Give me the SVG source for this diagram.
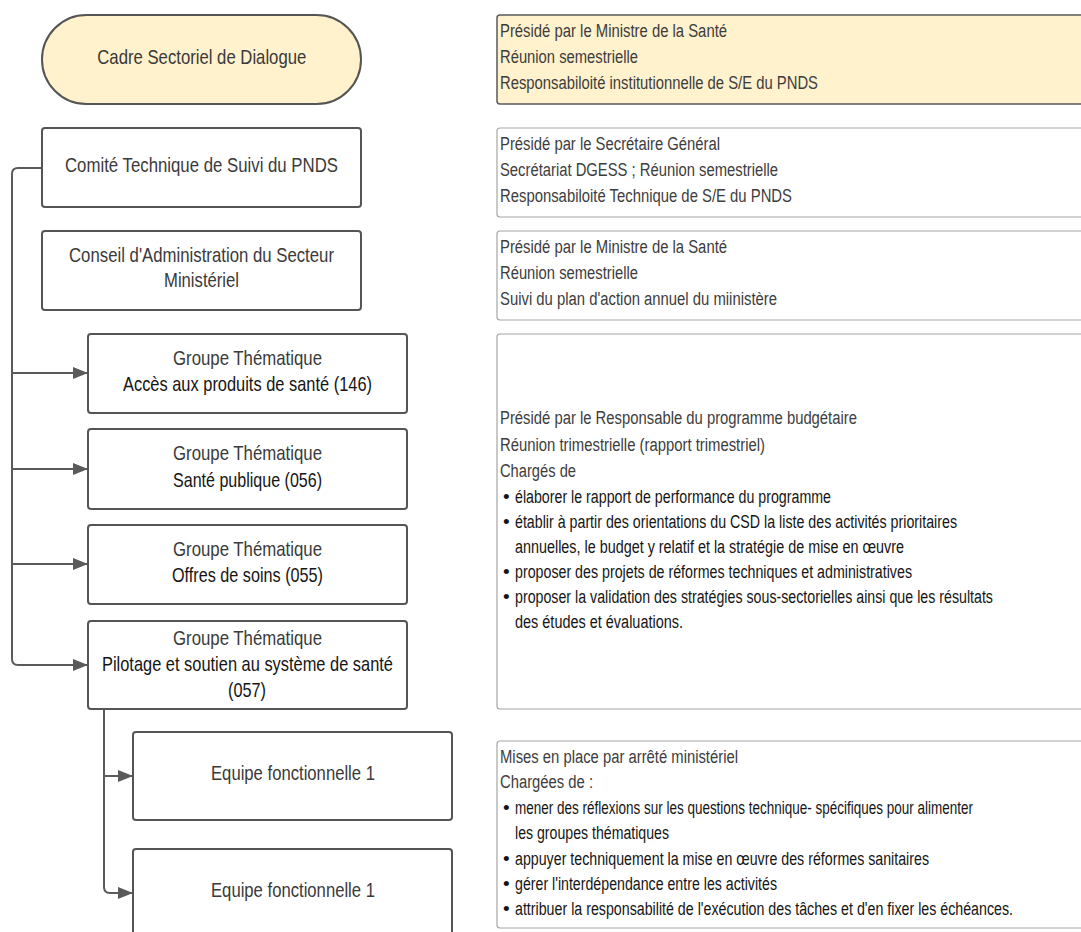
<svg xmlns="http://www.w3.org/2000/svg" width="1081" height="932" viewBox="0 0 1081 932" xml:space="preserve">
<defs>
<style>
.node{fill:#ffffff;stroke:#555555;stroke-width:2}
.yel{fill:#fff2cc}
.note{fill:#ffffff;stroke:#a6a6a6;stroke-width:1.2}
.noteY{fill:#fff2cc;stroke:#5a5a5a;stroke-width:1.5}
.t{font-family:"Liberation Sans",Arial,sans-serif;font-size:21px;fill:#3a3a3a}
.tk{font-family:"Liberation Sans",Arial,sans-serif;font-size:21px;fill:#151515}
.r{font-family:"Liberation Sans",Arial,sans-serif;font-size:19px;fill:#3d3d3d}
.rk{font-family:"Liberation Sans",Arial,sans-serif;font-size:19px;fill:#151515}
.conn{fill:none;stroke:#5a5a5a;stroke-width:2}
</style>
<marker id="arr" viewBox="0 0 15 12" refX="15" refY="6" markerUnits="userSpaceOnUse" markerWidth="15" markerHeight="12" orient="auto">
<path d="M0,0 L15,6 L0,12 z" fill="#5a5a5a"/>
</marker>
</defs>
<rect width="1081" height="932" fill="#ffffff"/>

<g id="connectors">
<path class="conn" d="M42,168 H18 Q12,168 12,174 V659 Q12,665 18,665 H88" marker-end="url(#arr)"/>
<path class="conn" d="M12,373 H88" marker-end="url(#arr)"/>
<path class="conn" d="M12,469 H88" marker-end="url(#arr)"/>
<path class="conn" d="M12,564 H88" marker-end="url(#arr)"/>
<path class="conn" d="M104,709 V887 Q104,893 110,893 H133" marker-end="url(#arr)"/>
<path class="conn" d="M104,776 H133" marker-end="url(#arr)"/>
</g>

<g id="csd">
<rect class="node yel" x="42" y="15" width="319" height="89" rx="44.5"/>
<text class="t" x="97.3" y="64" textLength="209" lengthAdjust="spacingAndGlyphs">Cadre Sectoriel de Dialogue</text>
</g>
<g id="ctsp">
<rect class="node" x="42" y="128" width="319" height="79" rx="3"/>
<text class="t" x="65" y="172" textLength="273" lengthAdjust="spacingAndGlyphs">Comité Technique de Suivi du PNDS</text>
</g>
<g id="casm">
<rect class="node" x="42" y="231" width="319" height="79" rx="3"/>
<text class="t" x="69" y="262" textLength="265" lengthAdjust="spacingAndGlyphs">Conseil d'Administration du Secteur</text>
<text class="t" x="164" y="287" textLength="75" lengthAdjust="spacingAndGlyphs">Ministériel</text>
</g>
<g id="gt1">
<rect class="node" x="88" y="334" width="319" height="79" rx="3"/>
<text class="t" x="173" y="365" textLength="149" lengthAdjust="spacingAndGlyphs">Groupe Thématique</text>
<text class="tk" x="123" y="391" textLength="249" lengthAdjust="spacingAndGlyphs">Accès aux produits  de santé (146)</text>
</g>
<g id="gt2">
<rect class="node" x="88" y="429" width="319" height="80" rx="3"/>
<text class="t" x="173" y="460" textLength="149" lengthAdjust="spacingAndGlyphs">Groupe Thématique</text>
<text class="tk" x="173" y="487" textLength="149" lengthAdjust="spacingAndGlyphs">Santé publique (056)</text>
</g>
<g id="gt3">
<rect class="node" x="88" y="525" width="319" height="79" rx="3"/>
<text class="t" x="173" y="556" textLength="149" lengthAdjust="spacingAndGlyphs">Groupe Thématique</text>
<text class="tk" x="172" y="582" textLength="151" lengthAdjust="spacingAndGlyphs">Offres de soins (055)</text>
</g>
<g id="gt4">
<rect class="node" x="88" y="621" width="319" height="88" rx="3"/>
<text class="t" x="173" y="645" textLength="149" lengthAdjust="spacingAndGlyphs">Groupe Thématique</text>
<text class="tk" x="102" y="671" textLength="291" lengthAdjust="spacingAndGlyphs">Pilotage et soutien au  système de santé</text>
<text class="tk" x="228" y="697" textLength="38" lengthAdjust="spacingAndGlyphs">(057)</text>
</g>
<g id="ef1">
<rect class="node" x="133" y="732" width="319" height="88" rx="3"/>
<text class="t" x="211" y="780" textLength="164" lengthAdjust="spacingAndGlyphs">Equipe fonctionnelle 1</text>
</g>
<g id="ef2">
<rect class="node" x="133" y="849" width="319" height="100" rx="3"/>
<text class="t" x="211" y="897" textLength="164" lengthAdjust="spacingAndGlyphs">Equipe fonctionnelle 1</text>
</g>

<g id="note-csd">
<rect class="noteY" x="497" y="15" width="600" height="89" rx="3"/>
<text class="r" transform="translate(500,37) scale(0.74,1)" textLength="306.8" lengthAdjust="spacingAndGlyphs">Présidé par le Ministre de la Santé</text>
<text class="r" transform="translate(500,63) scale(0.74,1)" textLength="186.5" lengthAdjust="spacingAndGlyphs">Réunion semestrielle</text>
<text class="r" transform="translate(500,89) scale(0.74,1)" textLength="429.7" lengthAdjust="spacingAndGlyphs">Responsabiloité institutionnelle de S/E du PNDS</text>
</g>
<g id="note-ctsp">
<rect class="note" x="497" y="128" width="600" height="89" rx="3"/>
<text class="r" transform="translate(500,150) scale(0.74,1)" textLength="297.3" lengthAdjust="spacingAndGlyphs">Présidé par le Secrétaire Général</text>
<text class="r" transform="translate(500,176) scale(0.74,1)" textLength="375.7" lengthAdjust="spacingAndGlyphs">Secrétariat DGESS ; Réunion semestrielle</text>
<text class="r" transform="translate(500,202) scale(0.74,1)" textLength="394.6" lengthAdjust="spacingAndGlyphs">Responsabiloité Technique de S/E du PNDS</text>
</g>
<g id="note-casm">
<rect class="note" x="497" y="231" width="600" height="89" rx="3"/>
<text class="r" transform="translate(500,253) scale(0.74,1)" textLength="306.8" lengthAdjust="spacingAndGlyphs">Présidé par le Ministre de la Santé</text>
<text class="r" transform="translate(500,279) scale(0.74,1)" textLength="186.5" lengthAdjust="spacingAndGlyphs">Réunion semestrielle</text>
<text class="r" transform="translate(500,305) scale(0.74,1)" textLength="374.3" lengthAdjust="spacingAndGlyphs">Suivi du plan d'action annuel du miinistère</text>
</g>
<g id="note-gt">
<rect class="note" x="497" y="334" width="600" height="375" rx="3"/>
<text class="r" transform="translate(500,424) scale(0.74,1)" textLength="482.4" lengthAdjust="spacingAndGlyphs">Présidé par le Responsable du programme budgétaire</text>
<text class="r" transform="translate(500,451) scale(0.74,1)" textLength="358.1" lengthAdjust="spacingAndGlyphs">Réunion trimestrielle (rapport trimestriel)</text>
<text class="r" transform="translate(500,477) scale(0.74,1)" textLength="102.7" lengthAdjust="spacingAndGlyphs">Chargés de</text>
<text class="rk" x="503" y="503">•</text>
<text class="rk" transform="translate(515,503) scale(0.74,1)" textLength="427" lengthAdjust="spacingAndGlyphs">élaborer le rapport de performance du programme</text>
<text class="rk" x="503" y="528">•</text>
<text class="rk" transform="translate(515,528) scale(0.74,1)" textLength="597.3" lengthAdjust="spacingAndGlyphs">établir à partir des orientations du CSD la liste des activités prioritaires</text>
<text class="rk" transform="translate(515,553) scale(0.74,1)" textLength="525.7" lengthAdjust="spacingAndGlyphs">annuelles,  le budget y relatif et la stratégie de mise en œuvre</text>
<text class="rk" x="503" y="578">•</text>
<text class="rk" transform="translate(515,578) scale(0.74,1)" textLength="536.5" lengthAdjust="spacingAndGlyphs">proposer des projets de réformes techniques et administratives</text>
<text class="rk" x="503" y="603">•</text>
<text class="rk" transform="translate(515,603) scale(0.74,1)" textLength="645.9" lengthAdjust="spacingAndGlyphs">proposer la validation des stratégies sous-sectorielles ainsi que les résultats</text>
<text class="rk" transform="translate(515,628) scale(0.74,1)" textLength="227" lengthAdjust="spacingAndGlyphs">des  études et évaluations.</text>
</g>
<g id="note-ef">
<rect class="note" x="497" y="741" width="600" height="187" rx="3"/>
<text class="r" transform="translate(500,763) scale(0.74,1)" textLength="321.6" lengthAdjust="spacingAndGlyphs">Mises en place par arrêté ministériel</text>
<text class="r" transform="translate(500,788) scale(0.74,1)" textLength="125.7" lengthAdjust="spacingAndGlyphs">Chargées de :</text>
<text class="rk" x="503" y="814">•</text>
<text class="rk" transform="translate(515,814) scale(0.74,1)" textLength="618.9" lengthAdjust="spacingAndGlyphs">mener des réflexions sur les questions technique- spécifiques pour alimenter</text>
<text class="rk" transform="translate(515,839) scale(0.74,1)" textLength="208.1" lengthAdjust="spacingAndGlyphs">les groupes thématiques</text>
<text class="rk" x="503" y="865">•</text>
<text class="rk" transform="translate(515,865) scale(0.74,1)" textLength="559.5" lengthAdjust="spacingAndGlyphs">appuyer techniquement la mise en œuvre des réformes sanitaires</text>
<text class="rk" x="503" y="890">•</text>
<text class="rk" transform="translate(515,890) scale(0.74,1)" textLength="354.1" lengthAdjust="spacingAndGlyphs">gérer l'interdépendance entre les activités</text>
<text class="rk" x="503" y="915">•</text>
<text class="rk" transform="translate(515,915) scale(0.74,1)" textLength="673" lengthAdjust="spacingAndGlyphs">attribuer la responsabilité de l'exécution des tâches et d'en fixer les échéances.</text>
</g>
</svg>
